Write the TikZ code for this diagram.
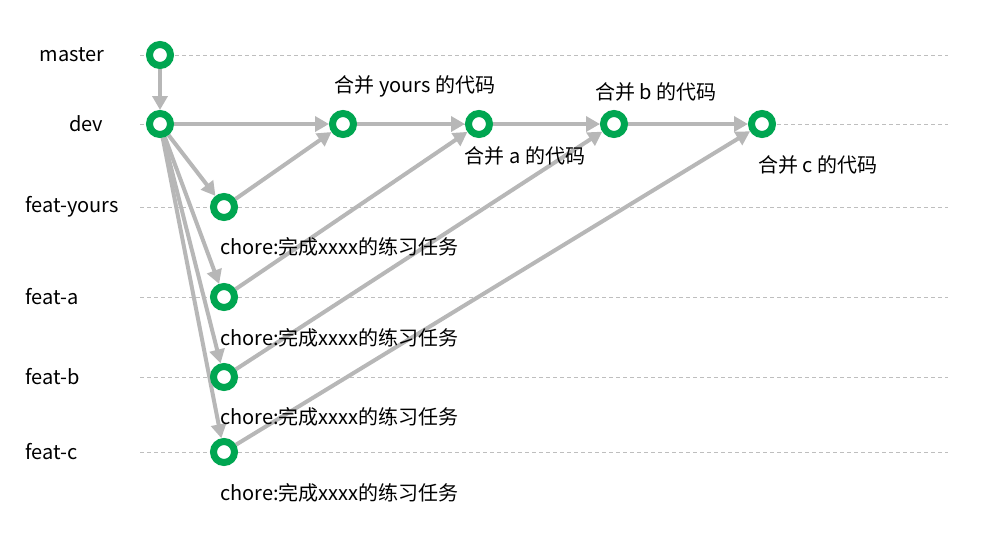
\documentclass[tikz,border=0pt]{standalone}
\usepackage{fontspec}
\setmainfont{Noto Sans CJK SC}
\usetikzlibrary{arrows.meta}
\definecolor{ringgreen}{RGB}{0,166,81}
\definecolor{linegray}{RGB}{183,183,183}
\definecolor{dashgray}{RGB}{190,190,190}
\tikzset{
  commit/.style={circle, draw=ringgreen, line width=7pt, fill=white, minimum size=21pt, inner sep=0pt},
  flow/.style={draw=linegray, line width=4pt, -{Triangle[length=14pt,width=15pt]}},
  lane/.style={draw=dashgray, line width=0.8pt, dash pattern=on 4pt off 3pt},
  txt/.style={inner sep=0pt, font=\fontsize{20}{22}\selectfont, text=black}
}
\begin{document}
\begin{tikzpicture}[x=1pt,y=-1pt]
\useasboundingbox (0,0) rectangle (992,550);
% lanes
\foreach \yy in {55,124,207,297,377,452} \draw[lane] (140,\yy) -- (948,\yy);
% lane labels
\node[txt] (lmaster) at (72,55) {master};
\node[txt] (ldev) at (86,124) {dev};
\node[txt,anchor=west] (lyours) at (25,207) {feat-yours};
\node[txt,anchor=west] (la) at (25,297) {feat-a};
\node[txt,anchor=west] (lb) at (25,377) {feat-b};
\node[txt,anchor=west] (lc) at (25,452) {feat-c};
% commits (positions)
\coordinate (pm) at (160,55);
\coordinate (pd) at (160,124);
\coordinate (pmy) at (343,124);
\coordinate (pma) at (479,124);
\coordinate (pmb) at (614,124);
\coordinate (pmc) at (762,124);
\coordinate (pfy) at (224,207);
\coordinate (pfa) at (224,297);
\coordinate (pfb) at (224,377);
\coordinate (pfc) at (224,452);
% invisible nodes for connector geometry
\foreach \n in {m,d,my,ma,mb,mc,fy,fa,fb,fc}
  \node[commit, draw=none, fill=none] (\n) at (p\n) {};
% connectors
\draw[flow] (m) -- (d);
\draw[flow] (d) -- (my);
\draw[flow] (my) -- (ma);
\draw[flow] (ma) -- (mb);
\draw[flow] (mb) -- (mc);
\draw[flow] (d) -- (fy);
\draw[flow] (d) -- (fa);
\draw[flow] (d) -- (fb);
\draw[flow] (d) -- (fc);
\draw[flow] (fy) -- (my);
\draw[flow] (fa) -- (ma);
\draw[flow] (fb) -- (mb);
\draw[flow] (fc) -- (mc);
% visible commits
\foreach \n in {m,d,my,ma,mb,mc,fy,fa,fb,fc}
  \node[commit] (c\n) at (p\n) {};
% labels
\node[txt] (tmy) at (415,86) {合并 yours 的代码};
\node[txt] (tma) at (525,156) {合并 a 的代码};
\node[txt] (tmb) at (656,92) {合并 b 的代码};
\node[txt] (tmc) at (818,165) {合并 c 的代码};
\node[txt,anchor=west] (tfy) at (220,247) {chore:完成xxxx的练习任务};
\node[txt,anchor=west] (tfa) at (220,338) {chore:完成xxxx的练习任务};
\node[txt,anchor=west] (tfb) at (220,417) {chore:完成xxxx的练习任务};
\node[txt,anchor=west] (tfc) at (220,493) {chore:完成xxxx的练习任务};
\end{tikzpicture}
\end{document}
